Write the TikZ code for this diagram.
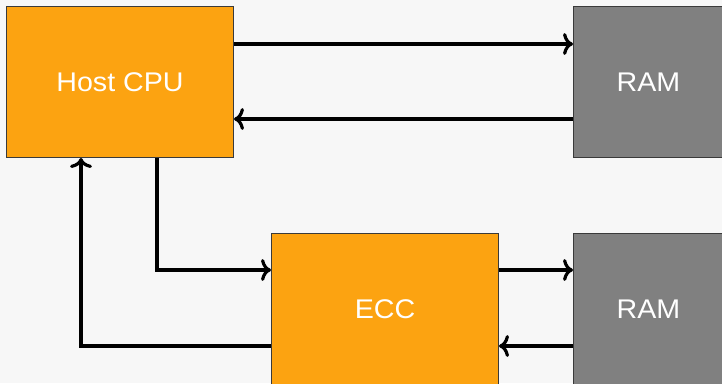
\documentclass[tikz,border=0pt]{standalone}
\usepackage{fontspec}
\setmainfont{Liberation Sans}
\newfontfamily\blockfont{Liberation Sans}[FakeStretch=1.06]
\usetikzlibrary{arrows.meta}
\definecolor{bg}{HTML}{F7F7F7}
\definecolor{cpuorange}{HTML}{FCA311}
\definecolor{ramgray}{HTML}{808080}
\definecolor{edge}{HTML}{3A3A3A}
\tikzset{
  block/.style={draw=edge, line width=1pt, minimum width=227pt, minimum height=151pt,
    inner sep=0pt, anchor=north west, text=white, font=\blockfont\fontsize{27}{32}\selectfont},
  cpu/.style={block, fill=cpuorange},
  mem/.style={block, fill=ramgray, minimum width=150pt},
  link/.style={draw=black, line width=3.2pt, -{To[length=10pt,width=22pt,line width=3.2pt]}},
}
\begin{document}
\begin{tikzpicture}[x=1pt,y=-1pt]
  \fill[bg] (0,0) rectangle (722,383);
  \useasboundingbox (0,0) rectangle (722,383);
  \node[cpu] (cpu) at (6,6) {Host CPU};
  \node[mem] (ramA) at (573,6) {RAM};
  \node[cpu] (ecc) at (271,233) {ECC};
  \node[mem] (ramB) at (573,233) {RAM};
  % CPU <-> upper RAM
  \draw[link] (cpu.east |- 0,44) -- (ramA.west |- 0,44);
  \draw[link] (ramA.west |- 0,119) -- (cpu.east |- 0,119);
  % CPU -> ECC
  \coordinate (c1) at (157,270);
  \draw[link] (cpu.south -| c1) -- (c1) -- (ecc.west |- c1);
  % ECC <-> lower RAM
  \draw[link] (ecc.east |- 0,270) -- (ramB.west |- 0,270);
  \draw[link] (ramB.west |- 0,346) -- (ecc.east |- 0,346);
  % ECC -> CPU
  \coordinate (c2) at (81,346);
  \draw[link] (ecc.west |- c2) -- (c2) -- (cpu.south -| c2);
\end{tikzpicture}
\end{document}
